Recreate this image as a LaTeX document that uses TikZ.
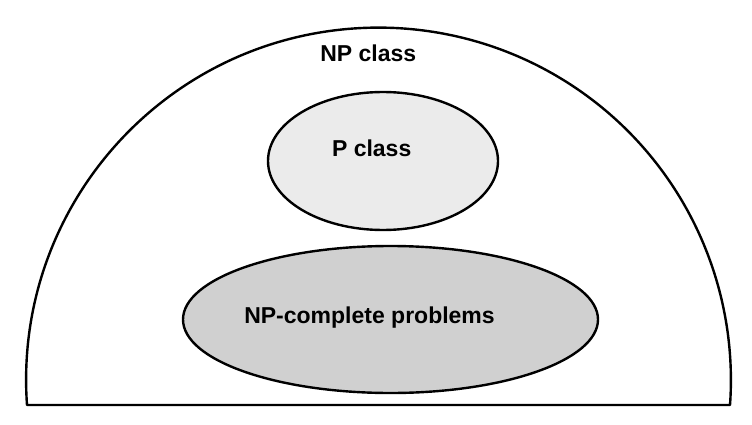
\documentclass[tikz,border=0pt]{standalone}
\usepackage{fontspec}
\setmainfont{Liberation Sans}
\usetikzlibrary{shapes.geometric}
\tikzset{
  outline/.style={draw=black, line width=2.4pt},
  setbox/.style={ellipse, outline, inner sep=0pt},
  label/.style={font=\fontsize{23}{28}\selectfont\bfseries, anchor=base, inner sep=0pt}
}
\begin{document}
\begin{tikzpicture}[x=1pt,y=1pt]
\useasboundingbox (0,0) rectangle (752,424);
\coordinate (domeL) at (27,19);
\draw[outline, line join=round] (domeL) arc[start angle=184.07, end angle=-4.07, radius=352.4] -- cycle;
\node[setbox, fill={rgb,255:red,235;green,235;blue,235}, minimum width=230pt, minimum height=138pt] (P) at (383,263) {};
\node[setbox, fill={rgb,255:red,208;green,208;blue,208}, minimum width=415pt, minimum height=147pt] (NPC) at (390.5,104.5) {};
\node[label] (NPt) at (368.3,362.3) {NP class};
\node[label] (Pt) at (371.7,267.3) {P class};
\node[label] (NPCt) at (369.5,100.7) {NP-complete problems};
\end{tikzpicture}
\end{document}
